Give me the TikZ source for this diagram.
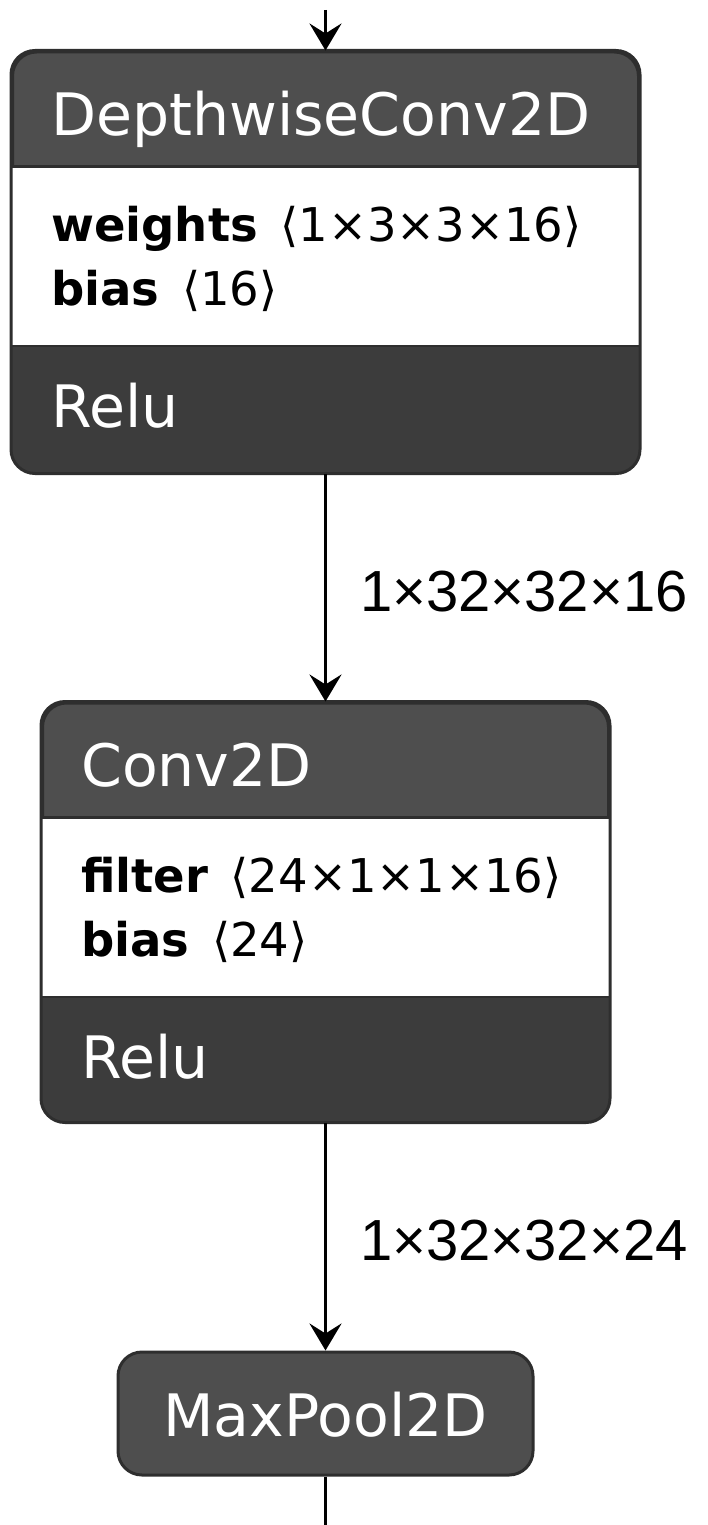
\documentclass[tikz,border=0pt]{standalone}
\usepackage{fontspec}
\setmainfont{DejaVu Sans}
\newfontfamily\numfont{Liberation Sans}
\usepackage{tikz}
\usetikzlibrary{arrows.meta, positioning, calc}

\definecolor{headgray}{HTML}{4E4E4E}
\definecolor{footgray}{HTML}{3C3C3C}
\definecolor{edgegray}{HTML}{2E2E2E}

\tikzset{
  layer/.style={draw=edgegray, line width=3pt, rounded corners=24pt, fill=headgray, inner sep=0pt},
  layername/.style={anchor=base west, inner sep=0pt, text=white, font=\fontsize{58.5}{60}\selectfont},
  attr/.style={anchor=base west, inner sep=0pt, text=black, font=\fontsize{46.5}{50}\selectfont},
  shapelabel/.style={anchor=west, inner sep=0pt, xshift=33pt, yshift=-4pt, font=\numfont\fontsize{58}{60}\selectfont},
  flow/.style={line width=3.5pt, -{Stealth[length=27pt, width=32pt, inset=10pt]}},
}

\begin{document}
\begin{tikzpicture}[x=1pt, y=-1pt]
  \useasboundingbox (0,0) rectangle (707,1525);

  % --- layer boxes ---
  \node[layer, minimum width=626pt, minimum height=420pt] (dw) at (325.5,262) {};
  \node[layer, minimum width=566pt, minimum height=418pt] (conv) at (325.5,912) {};
  \node[layer, minimum width=415pt, minimum height=123pt] (pool) at (325.5,1413.5) {};

  % header, attribute block and activation strip
  \foreach \n in {dw, conv} {
    \begin{scope}
      \clip[rounded corners=24pt] (\n.north west) rectangle (\n.south east);
      \fill[white] ([yshift=-116pt]\n.north west) rectangle ([yshift=-295pt]\n.north east);
      \fill[footgray] ([yshift=-295pt]\n.north west) rectangle (\n.south east);
    \end{scope}
    \draw[edgegray, line width=3pt] ([yshift=-116pt]\n.north west) -- ([yshift=-116pt]\n.north east);
    \draw[edgegray, line width=2pt] ([yshift=-295pt]\n.north west) -- ([yshift=-295pt]\n.north east);
    \draw[edgegray, line width=3pt, rounded corners=24pt] (\n.north west) rectangle (\n.south east);
  }

  % --- texts ---
  \node[layername] (dwname) at ([shift={(40pt,-85pt)}]dw.north west) {DepthwiseConv2D};
  \node[attr] (dwweights) at ([shift={(40pt,-191pt)}]dw.north west) {\textbf{weights}\, ⟨1×3×3×16⟩};
  \node[attr] (dwbias) at ([shift={(40pt,-255pt)}]dw.north west) {\textbf{bias}\, ⟨16⟩};
  \node[layername] (dwact) at ([shift={(40pt,-377pt)}]dw.north west) {Relu};

  \node[layername] (convname) at ([shift={(40pt,-85pt)}]conv.north west) {Conv2D};
  \node[attr] (convfilter) at ([shift={(40pt,-191pt)}]conv.north west) {\textbf{filter}\, ⟨24×1×1×16⟩};
  \node[attr] (convbias) at ([shift={(40pt,-255pt)}]conv.north west) {\textbf{bias}\, ⟨24⟩};
  \node[layername] (convact) at ([shift={(40pt,-377pt)}]conv.north west) {Relu};

  \node[layername, anchor=base] (poolname) at ([yshift=-86pt]pool.north) {MaxPool2D};

  % --- connectors ---
  \coordinate (in) at (325.5,10);
  \coordinate (out) at (325.5,1525);
  \draw[flow] (in) -- (dw);
  \draw[flow] (dw) -- (conv) node[midway, shapelabel] (dwout) {1×32×32×16};
  \draw[flow] (conv) -- (pool) node[midway, shapelabel] (convout) {1×32×32×24};
  \draw[line width=3.5pt] (pool) -- (out);
\end{tikzpicture}
\end{document}
